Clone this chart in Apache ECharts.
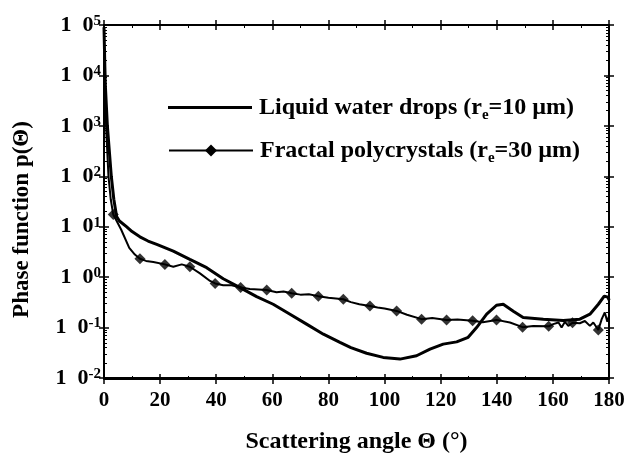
<!DOCTYPE html>
<html>
<head>
<meta charset="utf-8">
<script src="https://cdn.jsdelivr.net/npm/echarts@6/dist/echarts.min.js"></script>
<style>
  html, body { margin: 0; padding: 0; background: #fff; }
  #chart { width: 634px; height: 459px; }
</style>
</head>
<body>
<div id="chart"></div>
<script>
// 液滴相函数（实线）
var liquidAngle = [0, 0.3, 0.5, 1.2, 2.6, 3.5, 4.5, 5.5, 8, 10, 12.8, 15.7, 18.8, 24.7, 30.6, 36.6, 42.5, 48.5, 54.4, 60.3, 66.3, 72.2, 78.2, 84.1, 88, 93.6, 99.5, 105.5, 111.4, 116.2, 120.9, 125.7, 129.8, 132.8, 136.4, 139.9, 142.3, 145.9, 149.4, 156.6, 163.7, 169.6, 173.2, 176.2, 178.3, 179.7, 180];
var liquidValue = [90000, 15000, 6000, 1000, 100, 35, 16, 13, 10, 8, 6.3, 5.2, 4.45, 3.28, 2.25, 1.54, 0.93, 0.62, 0.41, 0.29, 0.184, 0.117, 0.074, 0.051, 0.04, 0.031, 0.0256, 0.0237, 0.0276, 0.0374, 0.047, 0.052, 0.064, 0.1, 0.184, 0.277, 0.29, 0.21, 0.158, 0.147, 0.138, 0.147, 0.184, 0.29, 0.42, 0.4, 0.35];

// 分形多晶体（带菱形的线）
var fractalAngle = [0, 0.3, 0.8, 1.6, 2.4, 3.3, 6.1, 9, 11, 12.8, 15, 17.6, 21.7, 24.7, 27.7, 30.6, 34.2, 37.8, 39.6, 42.5, 45.5, 48.7, 52, 55, 58, 61.5, 64, 66.9, 70, 73, 76.4, 80, 85.3, 88, 91, 94.8, 97.5, 100, 104.3, 108, 113.2, 117, 122.1, 126, 131.4, 135, 139.9, 144.7, 149.2, 153, 158.5, 160.1, 162, 163.1, 164.3, 165.5, 167, 169.6, 171.4, 173.2, 174.4, 176.2, 177.4, 178.5, 179.4, 180];
var fractalValue = [30000, 8000, 800, 100, 35, 17.4, 8.8, 3.8, 2.8, 2.32, 2.1, 2.0, 1.79, 1.61, 1.79, 1.61, 1.19, 0.84, 0.75, 0.69, 0.69, 0.62, 0.58, 0.57, 0.556, 0.5, 0.52, 0.479, 0.45, 0.46, 0.42, 0.39, 0.364, 0.32, 0.29, 0.268, 0.25, 0.24, 0.214, 0.18, 0.147, 0.155, 0.142, 0.145, 0.136, 0.128, 0.142, 0.126, 0.102, 0.108, 0.106, 0.117, 0.126, 0.1, 0.13, 0.108, 0.125, 0.122, 0.135, 0.108, 0.126, 0.09, 0.147, 0.2, 0.13, 0.17];
var markerAngle = [3.3, 12.8, 21.7, 30.6, 39.6, 48.7, 58, 66.9, 76.4, 85.3, 94.8, 104.3, 113.2, 122.1, 131.4, 139.9, 149.2, 158.5, 167, 176.2];
var markerValue = [17.4, 2.32, 1.79, 1.61, 0.75, 0.62, 0.556, 0.479, 0.42, 0.364, 0.268, 0.214, 0.147, 0.142, 0.136, 0.142, 0.102, 0.106, 0.125, 0.09];

var liquidName = "Liquid water drops (re=10 µm)";
var fractalName = "Fractal polycrystals (re=30 µm)";
var xTitle = "Scattering angle Θ (°)";
var yTitle = "Phase function p(Θ)";

var font = "Liberation Serif";

// 绘图区（像素）
var W = 634, H = 459;
var G = { left: 104, right: 25, top: 25, bottom: 80 };
var plotW = W - G.left - G.right;
var plotH = H - G.top - G.bottom;

function pairs(xs, ys) {
  var out = [];
  for (var i = 0; i < xs.length; i++) out.push([xs[i], ys[i]]);
  return out;
}

// r 后面的 e 做下标
function legendFmt(name) {
  var i = name.indexOf("re=");
  return "{t|" + name.slice(0, i + 1) + "}{s|e}{u|" + name.slice(i + 2) + "}";
}

var legendText = {
  fontFamily: font,
  fontSize: 24,
  fontWeight: "bold",
  color: "#000",
  rich: {
    t: { fontFamily: font, fontSize: 24, fontWeight: "bold", lineHeight: 24, padding: [0, 0, 0, 2] },
    u: { fontFamily: font, fontSize: 24, fontWeight: "bold", lineHeight: 24 },
    s: { fontFamily: font, fontSize: 15, fontWeight: "bold", lineHeight: 15, padding: [16, 0, 0, 0] },
  },
};

var xCommon = { type: "value", min: 0, max: 180, interval: 20 };
var yCommon = { type: "log", logBase: 10, min: 0.01, max: 100000, splitNumber: 7 };

// 通用轴：pos 位置, offset 偏移, line 是否画轴线, inside 刻度朝向, minor 次刻度分段
function frameAxis(c, pos, offset, line, inside, minor) {
  var o = {};
  for (var k in c) o[k] = c[k];
  o.position = pos;
  o.offset = offset;
  o.zlevel = 1;
  o.z = 50;
  o.splitLine = { show: false };
  o.axisLine = { show: line, onZero: false, lineStyle: { color: "#000", width: 2 } };
  o.axisTick = { show: true, inside: inside, length: 5, lineStyle: { color: "#000", width: 1.5 } };
  o.minorTick = { show: minor > 0, splitNumber: minor || 2, length: 3, lineStyle: { color: "#000" } };
  o.axisLabel = { show: false };
  return o;
}

// 只放标签和轴名
function labelAxis(c, pos, extra) {
  var o = {};
  for (var k in c) o[k] = c[k];
  o.position = pos;
  o.splitLine = { show: false };
  o.axisLine = { show: false, onZero: false };
  o.axisTick = { show: false };
  for (var j in extra) o[j] = extra[j];
  return o;
}

var option = {
  backgroundColor: "#fff",
  animation: false,
  grid: {
    left: G.left,
    right: G.right,
    top: G.top,
    bottom: G.bottom,
    show: true,
    borderColor: "#000",
    borderWidth: 2,
    backgroundColor: "transparent",
  },
  // 左边和底边的框线
  graphic: [
    {
      type: "line",
      zlevel: 2,
      shape: { x1: G.left, y1: G.top, x2: G.left, y2: H - G.bottom },
      style: { stroke: "#000", lineWidth: 2 },
    },
    {
      type: "line",
      zlevel: 2,
      shape: { x1: G.left, y1: H - G.bottom, x2: W - G.right, y2: H - G.bottom },
      style: { stroke: "#000", lineWidth: 2 },
    },
  ],
  legend: [
    {
      data: [{ name: liquidName, icon: "rect" }],
      left: 163,
      top: 87,
      itemWidth: 84,
      itemHeight: 3,
      selectedMode: false,
      formatter: legendFmt,
      textStyle: legendText,
    },
    {
      data: [fractalName],
      left: 163,
      top: 130,
      itemWidth: 84,
      itemHeight: 15,
      selectedMode: false,
      formatter: legendFmt,
      textStyle: legendText,
    },
  ],
  xAxis: [
    frameAxis(xCommon, "top", 0, true, true, 2),
    frameAxis(xCommon, "top", 0, false, false, 0),
    labelAxis(xCommon, "bottom", {
      axisLabel: {
        show: true,
        margin: 12,
        fontFamily: font,
        fontSize: 21,
        fontWeight: "bold",
        color: "#000",
      },
      name: xTitle,
      nameLocation: "middle",
      nameGap: 52,
      nameTextStyle: { fontFamily: font, fontSize: 24, fontWeight: "bold", color: "#000" },
    }),
    // 底边：用 top 轴向下平移
    frameAxis(xCommon, "top", -plotH, true, true, 0),
    frameAxis(xCommon, "top", -plotH, false, false, 2),
  ],
  yAxis: [
    frameAxis(yCommon, "right", 0, true, true, 9),
    frameAxis(yCommon, "right", 0, false, false, 0),
    labelAxis(yCommon, "left", {
      axisLabel: {
        show: true,
        margin: 3,
        formatter: function (v) {
          var e = Math.round(Math.log(v) / Math.LN10);
          return "{a|1}{c|0}{b|" + e + "}";
        },
        rich: {
          a: { fontFamily: font, fontSize: 22, fontWeight: "bold", color: "#000", lineHeight: 22 },
          c: { fontFamily: font, fontSize: 22, fontWeight: "bold", color: "#000", lineHeight: 22, padding: [0, 0, 0, 11] },
          b: { fontFamily: font, fontSize: 15, fontWeight: "bold", color: "#000", lineHeight: 15, padding: [0, 0, 8, 0] },
        },
      },
      name: yTitle,
      nameLocation: "middle",
      nameGap: 70,
      nameTextStyle: { fontFamily: font, fontSize: 23, fontWeight: "bold", color: "#000", padding: [0, 36, 0, 0] },
    }),
    // 左边：用 right 轴向左平移
    frameAxis(yCommon, "right", -plotW, true, true, 0),
    frameAxis(yCommon, "right", -plotW, false, false, 9),
  ],
  series: [
    {
      name: liquidName,
      type: "line",
      xAxisIndex: 0,
      yAxisIndex: 0,
      data: pairs(liquidAngle, liquidValue),
      symbol: "none",
      smooth: false,
      color: "#000",
      lineStyle: { color: "#000", width: 3 },
      z: 3,
    },
    {
      name: fractalName,
      type: "line",
      xAxisIndex: 0,
      yAxisIndex: 0,
      data: pairs(fractalAngle, fractalValue),
      symbol: "diamond",
      symbolSize: 11,
      showSymbol: false,
      smooth: false,
      color: "#000",
      lineStyle: { color: "#000", width: 2 },
      itemStyle: { color: "#000" },
      z: 2,
    },
    {
      name: fractalName,
      type: "scatter",
      xAxisIndex: 0,
      yAxisIndex: 0,
      data: pairs(markerAngle, markerValue),
      symbol: "diamond",
      symbolSize: 11,
      itemStyle: { color: "#000" },
      z: 4,
    },
  ],
};

var myChart = echarts.init(document.getElementById("chart"));
myChart.setOption(option);
window.addEventListener("resize", function () {
  myChart.resize();
});
</script>
</body>
</html>
